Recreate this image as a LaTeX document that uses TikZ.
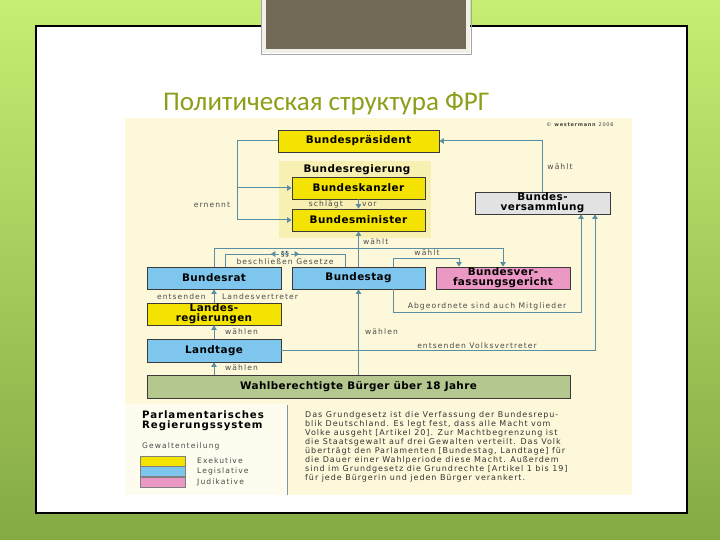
\documentclass[tikz,border=0pt]{standalone}
\usepackage{fontspec}
\usepackage{xcolor}
\usetikzlibrary{arrows.meta}
\newfontfamily\titlefont{Carlito}
\newfontfamily\boxfont[LetterSpace=4]{DejaVu Sans}
\newfontfamily\headfont[LetterSpace=9]{DejaVu Sans}
\newfontfamily\lblfont[LetterSpace=14]{DejaVu Sans}
\newfontfamily\txtfont[LetterSpace=12]{DejaVu Sans}
\definecolor{slidetop}{HTML}{C7ED74}
\definecolor{slidebottom}{HTML}{84AA44}
\definecolor{darkbox}{HTML}{736957}
\definecolor{boxframe}{HTML}{F1F0E8}
\definecolor{titlecol}{HTML}{8E9E18}
\definecolor{cream}{HTML}{FDF8DA}
\definecolor{legendbg}{HTML}{FEFCEE}
\definecolor{regbg}{HTML}{F8EFB2}
\definecolor{exeyellow}{HTML}{F4E200}
\definecolor{legblue}{HTML}{7EC6EE}
\definecolor{judpink}{HTML}{EC98C4}
\definecolor{versgrey}{HTML}{E2E2E2}
\definecolor{buergergreen}{HTML}{B3C78E}
\definecolor{boxedge}{HTML}{3A3A3A}
\definecolor{wirecol}{HTML}{5A8EA2}
\definecolor{lblgrey}{HTML}{4A4A4A}
\definecolor{sepcol}{HTML}{7E98A6}

\begin{document}
\begin{tikzpicture}[x=1pt,y=-1pt,
    box/.style={draw=boxedge,line width=0.8pt,inner sep=0pt,minimum height=22pt,minimum width=134pt,
      align=center,font=\boxfont\bfseries\fontsize{10.4}{10.2}\selectfont},
    exe/.style={box,fill=exeyellow},
    leg/.style={box,fill=legblue},
    jud/.style={box,fill=judpink},
    lbl/.style={inner sep=0pt,text=lblgrey,font=\lblfont\fontsize{7.6}{8}\selectfont},
    swatch/.style={draw=gray,line width=0.6pt,minimum width=45pt,minimum height=10pt,inner sep=0pt},
    wire/.style={draw=wirecol,line width=1pt},
    arr/.style={wire,-{Triangle[width=5.5pt,length=4.5pt]}}]
    \useasboundingbox (0,0) rectangle (720,540);
    \shade[top color=slidetop,bottom color=slidebottom] (0,0) rectangle (720,540);
    \draw[black,line width=1.2pt,fill=white] (36,26) rectangle (687,513);
    \draw[gray!70,line width=0.6pt] (261,-4) rectangle (471,54);
    \filldraw[fill=darkbox,draw=boxframe,line width=4pt] (264,-4) rectangle (468,51);
    \node[font=\titlefont\fontsize{27}{30}\selectfont,text=titlecol,anchor=base west,inner sep=0pt] (title) at (163,111) {Политическая структура ФРГ};

    \fill[cream] (125,118) rectangle (632,495);
    \fill[legendbg] (125,404) rectangle (287,495);
    \draw[sepcol,line width=1pt] (287,405) -- (287,495);
    \node[font=\lblfont\fontsize{5}{5.5}\selectfont,text=black!75] (copy) at (580,125) {© \textbf{westermann} 2006};

    \fill[regbg] (279,161) rectangle (431,238);
    \node[font=\boxfont\bfseries\fontsize{10.4}{10.8}\selectfont] (regtitle) at (357,170) {Bundesregierung};
    \node[exe,minimum width=161pt] (praes) at (358.5,141) {Bundespräsident};
    \node[exe,minimum width=133pt] (kanzler) at (358.5,188) {Bundeskanzler};
    \node[exe,minimum width=133pt] (minister) at (358.5,220) {Bundesminister};
    \node[box,fill=versgrey,minimum width=135pt] (versamml) at (542.5,203) {Bundes-\\versammlung};
    \node[leg] (rat) at (214,278) {Bundesrat};
    \node[leg,minimum width=133pt] (tag) at (358.5,278) {Bundestag};
    \node[jud] (bverfg) at (503,278) {Bundesver-\\fassungsgericht};
    \node[exe] (landreg) at (214,314) {Landes-\\regierungen};
    \node[leg,minimum height=23pt] (landtage) at (214,350.5) {Landtage};
    \node[box,fill=buergergreen,minimum width=423pt,minimum height=23pt] (buerger) at (358.5,386.5) {Wahlberechtigte Bürger über 18 Jahre};

    \coordinate (ern) at (237,141);
    \draw[wire] (praes.west) -- (ern);
    \draw[arr] (ern) |- (minister.west);
    \draw[arr] (ern |- kanzler.west) -- (kanzler.west);
    \node[lbl] (ernennt) at (212,205) {ernennt};

    \draw[arr] (versamml.north) |- (praes.east);
    \node[lbl] (waehltp) at (560,167) {wählt};

    \draw[arr] (kanzler.south) -- (minister.north);
    \node[lbl,anchor=east] (schlaegt) at (343,204) {schlägt};
    \node[lbl,anchor=west] (vor) at (362,204) {vor};

    \draw[arr] (tag.north) -- (minister.south);
    \node[lbl,anchor=west] (waehltm) at (363,242) {wählt};

    \coordinate (yA) at (0,248);
    \coordinate (yB) at (0,258);
    \coordinate (yC) at (0,254);
    \coordinate (yD) at (0,312);
    \coordinate (tagr) at ([xshift=34.5pt]tag.north);
    \coordinate (tagd) at ([xshift=34.5pt]tag.south);
    \coordinate (gerl) at ([xshift=-44pt]bverfg.north);
    \coordinate (ratr) at ([xshift=11pt]rat.north);
    \coordinate (tagl) at ([xshift=-13.5pt]tag.north);
    \coordinate (versa) at ([xshift=38.5pt]versamml.south);
    \coordinate (versb) at ([xshift=52.5pt]versamml.south);

    \draw[arr] (rat.north) |- (yA -| bverfg.north) -- (bverfg.north);
    \draw[arr] (tagr) |- (yB -| gerl) -- (gerl);
    \node[lbl] (waehltg) at (427,253) {wählt};

    \draw[wire] (ratr) |- (yC -| tagl) -- (tagl);
    \node[lbl,fill=cream,inner xsep=2pt,text=wirecol!70!black,font=\lblfont\bfseries\fontsize{7}{7.5}\selectfont] (para) at (285,254) {§§};
    \draw[arr] (para.west) -- ++(-8,0);
    \draw[arr] (para.east) -- ++(8,0);
    \node[lbl] (gesetze) at (285,261.5) {beschließen Gesetze};

    \draw[arr] (tagd) |- (yD -| versa) -- (versa);
    \node[lbl] (abgeord) at (487,306) {Abgeordnete sind auch Mitglieder};
    \draw[arr] (landtage.east) -| (versb);
    \node[lbl] (volksv) at (477,346) {entsenden Volksvertreter};

    \draw[arr] (landreg.north) -- (rat.south);
    \node[lbl,anchor=east] (entsenden) at (206,297) {entsenden};
    \node[lbl,anchor=west] (landesv) at (222,297) {Landesvertreter};
    \draw[arr] (landtage.north) -- (landreg.south);
    \node[lbl,anchor=west] (waehlenr) at (225,332) {wählen};
    \draw[arr] (buerger.north -| landtage.south) -- (landtage.south);
    \node[lbl,anchor=west] (waehlenl) at (225,368) {wählen};
    \draw[arr] (buerger.north -| tag.south) -- (tag.south);
    \node[lbl,anchor=west] (waehlent) at (365,332) {wählen};

    \node[font=\headfont\bfseries\fontsize{10.2}{9.5}\selectfont,align=left,anchor=north west,inner sep=0pt] (system) at (142,411) {Parlamentarisches\\Regierungssystem};
    \node[font=\lblfont\fontsize{7.6}{8}\selectfont,text=lblgrey,anchor=west,inner sep=0pt] (gewalten) at (142,446) {Gewaltenteilung};
    \node[swatch,fill=exeyellow] (swexe) at (162.5,461) {};
    \node[swatch,fill=legblue] (swleg) at (162.5,471.5) {};
    \node[swatch,fill=judpink] (swjud) at (162.5,482) {};
    \node[lbl,anchor=west] (exe) at (197,461) {Exekutive};
    \node[lbl,anchor=west] (legis) at (197,471.5) {Legislative};
    \node[lbl,anchor=west] (judik) at (197,482) {Judikative};

    \node[anchor=north west,align=left,inner sep=0pt,text=black!80,font=\txtfont\fontsize{8}{9}\selectfont] (gg) at (305,411) {Das Grundgesetz ist die Verfassung der Bundesrepu-\\blik Deutschland. Es legt fest, dass alle Macht vom\\Volke ausgeht [Artikel 20]. Zur Machtbegrenzung ist\\die Staatsgewalt auf drei Gewalten verteilt. Das Volk\\überträgt den Parlamenten [Bundestag, Landtage] für\\die Dauer einer Wahlperiode diese Macht. Außerdem\\sind im Grundgesetz die Grundrechte [Artikel 1 bis 19]\\für jede Bürgerin und jeden Bürger verankert.};
\end{tikzpicture}
\end{document}
